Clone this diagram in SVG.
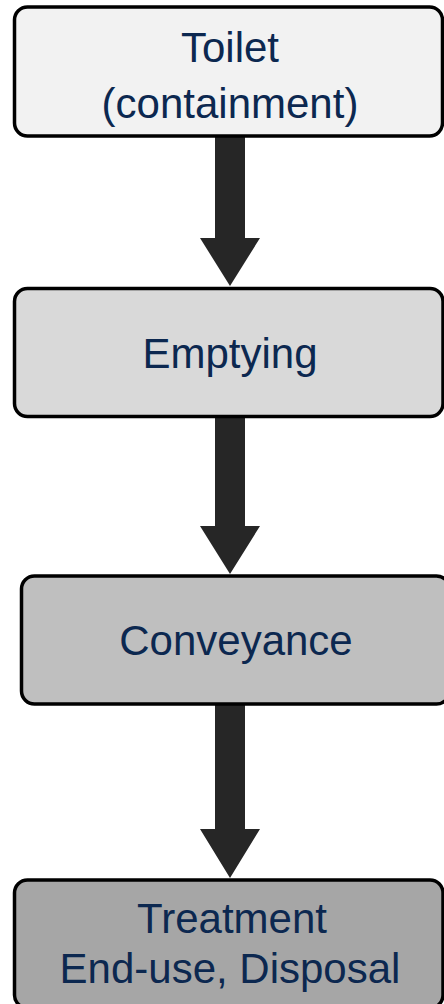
<svg xmlns="http://www.w3.org/2000/svg" width="444" height="1004" viewBox="0 0 444 1004">
  <style>
    .box { stroke: #000000; stroke-width: 3.5; }
    .label { font-family: "Liberation Sans", Arial, sans-serif; font-size: 42px; fill: #0c2850; text-anchor: middle; }
    .arrow { fill: #262626; }
  </style>
  <rect x="0" y="0" width="444" height="1004" fill="#ffffff"/>

  <!-- block arrows between the stages -->
  <g id="connectors">
    <path class="arrow" d="M215,137 H245 V238 H260 L230,286 L200,238 H215 Z"/>
    <path class="arrow" d="M215,417 H245 V526 H260 L230,574 L200,526 H215 Z"/>
    <path class="arrow" d="M215,705 H245 V829 H260 L230,878 L200,829 H215 Z"/>
  </g>

  <g id="toilet">
    <rect class="box" x="14.5" y="7" width="428" height="129" rx="13" fill="#f2f2f2"/>
    <text class="label" x="230" y="62">Toilet</text>
    <text class="label" x="230" y="118">(containment)</text>
  </g>

  <g id="emptying">
    <rect class="box" x="14.5" y="288.5" width="428.5" height="128" rx="13" fill="#d9d9d9"/>
    <text class="label" x="230" y="368">Emptying</text>
  </g>

  <g id="conveyance">
    <rect class="box" x="21.5" y="576" width="428" height="128" rx="13" fill="#bfbfbf"/>
    <text class="label" x="236" y="655">Conveyance</text>
  </g>

  <g id="treatment">
    <rect class="box" x="14.5" y="880" width="428.5" height="128" rx="13" fill="#a6a6a6"/>
    <text class="label" x="232" y="933">Treatment</text>
    <text class="label" x="230" y="983">End-use, Disposal</text>
  </g>
</svg>
